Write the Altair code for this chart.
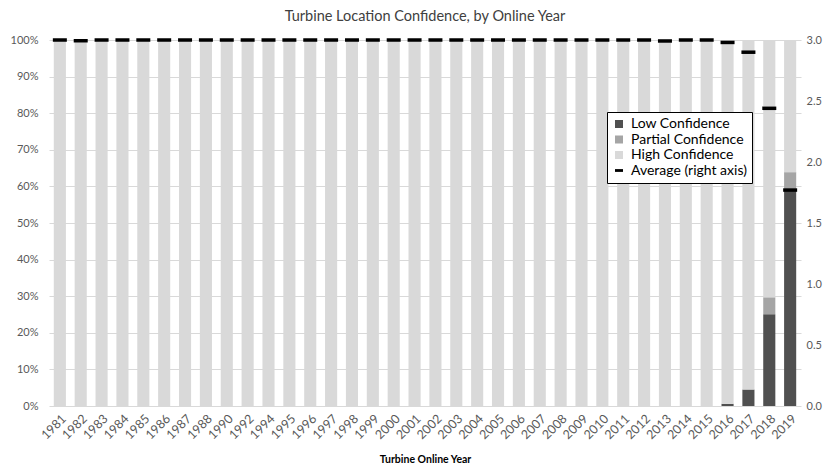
import altair as alt
import pandas as pd

years = ["1981", "1982", "1983", "1984", "1985", "1986", "1987", "1988", "1990", "1992",
         "1994", "1995", "1996", "1997", "1998", "1999", "2000", "2001", "2002", "2003",
         "2004", "2005", "2006", "2007", "2008", "2009", "2010", "2011", "2012", "2013",
         "2014", "2015", "2016", "2017", "2018", "2019"]

low_pct = [0, 0, 0, 0, 0, 0, 0, 0, 0, 0,
           0, 0, 0, 0, 0, 0, 0, 0, 0, 0,
           0, 0, 0, 0, 0, 0, 0, 0, 0, 0,
           0, 0, 0.6, 4.5, 25.1, 59.3]
partial_pct = [0, 0, 0, 0, 0, 0, 0, 0, 0, 0,
               0, 0, 0, 0, 0, 0, 0, 0, 0, 0,
               0, 0, 0, 0, 0, 0, 0, 0, 0, 0,
               0, 0, 0, 0, 4.6, 4.6]
high_pct = [100, 100, 100, 100, 100, 100, 100, 100, 100, 100,
            100, 100, 100, 100, 100, 100, 100, 100, 100, 100,
            100, 100, 100, 100, 100, 100, 100, 100, 100, 100,
            100, 100, 99.4, 95.5, 70.3, 36.1]
avg_score = [3.0, 2.994, 3.0, 3.0, 3.0, 3.0, 3.0, 3.0, 3.0, 3.0,
             3.0, 3.0, 3.0, 3.0, 3.0, 3.0, 3.0, 3.0, 3.0, 3.0,
             3.0, 3.0, 3.0, 3.0, 3.0, 3.0, 3.0, 3.0, 3.0, 2.992,
             3.0, 3.0, 2.98, 2.90, 2.44, 1.77]

categories = ["Low Confidence", "Partial Confidence", "High Confidence", "Average (right axis)"]
colors = ["#505050", "#a5a5a5", "#d9d9d9", "#000000"]

rows = []
for i, y in enumerate(years):
    rows.append({"year": y, "category": categories[0], "value": low_pct[i], "ord": 0})
    rows.append({"year": y, "category": categories[1], "value": partial_pct[i], "ord": 1})
    rows.append({"year": y, "category": categories[2], "value": high_pct[i], "ord": 2})
df_bars = pd.DataFrame(rows)
df_avg = pd.DataFrame({"year": years, "avg": avg_score, "category": categories[3]})

FONT = "Lato"
x_scale = alt.Scale(paddingInner=0.42, paddingOuter=0.23)

bars = alt.Chart(df_bars).mark_bar().encode(
    x=alt.X("year:N", sort=years, scale=x_scale,
            axis=alt.Axis(title="Turbine Online Year", labelAngle=-45, ticks=False,
                          domain=False, labelFontSize=12.5, labelColor="#595959",
                          labelPadding=6, titleFontSize=10.5, titleFontWeight="bold",
                          titleColor="#000000", titlePadding=13, labelFont=FONT, titleFont=FONT)),
    y=alt.Y("value:Q", stack="zero", scale=alt.Scale(domain=[0, 100], nice=False),
            axis=alt.Axis(title=None, values=[0, 10, 20, 30, 40, 50, 60, 70, 80, 90, 100],
                          labelExpr="datum.value + '%'", ticks=False, domain=False,
                          gridColor="#d9d9d9", gridWidth=1, labelFontSize=11,
                          labelColor="#595959", labelPadding=11, labelFont=FONT)),
    color=alt.Color("category:N", scale=alt.Scale(domain=categories, range=colors),
                    legend=alt.Legend(
                        title=None, orient="none", legendX=558, legendY=72,
                        strokeColor="#000000", fillColor="#ffffff", padding=5,
                        cornerRadius=0, labelFontSize=14, labelColor="#000000",
                        labelFont=FONT, symbolSize=64, rowPadding=1.5, labelOffset=5,
                        symbolType={"expr": "datum.label === 'Average (right axis)' ? 'M-1,-0.35H1V0.35H-1Z' : 'square'"},
                        symbolOpacity=1)),
    order=alt.Order("ord:Q"),
)

avg = alt.Chart(df_avg).mark_tick(size=14, thickness=3.5, opacity=1).encode(
    x=alt.X("year:N", sort=years, scale=x_scale),
    y=alt.Y("avg:Q", scale=alt.Scale(domain=[0, 3], nice=False),
            axis=alt.Axis(orient="right", title=None, grid=False, ticks=False, domain=False,
                          values=[0, 0.5, 1, 1.5, 2, 2.5, 3], format=".1f",
                          labelFontSize=11, labelColor="#595959", labelPadding=5,
                          labelFont=FONT)),
    color=alt.Color("category:N", scale=alt.Scale(domain=categories, range=colors)),
)

chart = alt.layer(bars, avg).resolve_scale(y="independent").properties(
    width=752, height=366,
    title=alt.TitleParams("Turbine Location Confidence, by Online Year", fontSize=14.5,
                          font=FONT, fontWeight="normal", color="#404040", offset=10),
    padding={"left": 2, "top": 0, "right": 2, "bottom": 0},
).configure_view(stroke=None)

chart.save("out.html", embed_options={"renderer": "svg", "actions": False})
